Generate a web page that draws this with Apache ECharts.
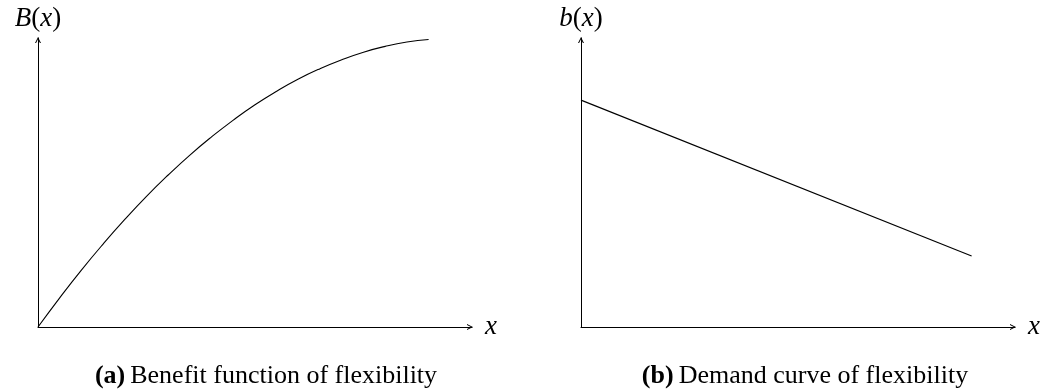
<!DOCTYPE html>
<html>
<head>
<meta charset="utf-8">
<script src="https://cdn.jsdelivr.net/npm/echarts@6/dist/echarts.min.js"></script>
<style>
  html, body { margin: 0; padding: 0; background: #fff; }
  #chart { width: 1047px; height: 392px; }
</style>
</head>
<body>
<div id="chart"></div>
<script>
// Benefit function B(x): concave, read every half step from x = 0 to 9
const benefitX = [0, 0.5, 1, 1.5, 2, 2.5, 3, 3.5, 4, 4.5, 5, 5.5, 6, 6.5, 7, 7.5, 8, 8.5, 9];
const benefitY = [0, 1.01, 1.97, 2.87, 3.72, 4.52, 5.26, 5.95, 6.58, 7.16, 7.69, 8.16, 8.58, 8.94, 9.25, 9.51, 9.71, 9.86, 9.95];

// Demand curve b(x): straight line, endpoints
const demandX = [0, 9];
const demandY = [7.85, 2.46];

// Panel texts
const captions = ['Benefit function of flexibility', 'Demand curve of flexibility'];
const captionTags = ['(a)', '(b)'];
const yNames = ['B', 'b'];

const serif = '"Liberation Serif", "DejaVu Serif", serif';
// Open chevron arrow head, pointing up before ECharts rotates it onto the axis
const chevron = 'path://M0,10 L5,0 L10,10 L8.2,10 L5,3.6 L1.8,10 Z';

function pairs(xs, ys) { return xs.map((x, i) => [x, ys[i]]); }

function axisLine() {
  return {
    show: true,
    onZero: false,
    symbol: ['none', chevron],
    symbolSize: [9, 6],
    symbolOffset: [0, -2],
    lineStyle: { color: '#000', width: 1 }
  };
}

const grids = [
  { left: 38, top: 38, width: 434, height: 289 },
  { left: 581, top: 38, width: 434, height: 289 }
];

const xAxes = grids.map((g, i) => ({
  type: 'value', gridIndex: i, min: 0, max: 10,
  axisLine: axisLine(), axisTick: { show: false }, axisLabel: { show: false },
  splitLine: { show: false },
  name: 'x', nameLocation: 'end', nameGap: 13,
  nameTextStyle: { fontFamily: serif, fontStyle: 'italic', fontSize: 27, color: '#000', verticalAlign: 'middle', padding: [0, 0, 6, 0] }
}));

const yAxes = grids.map((g, i) => ({
  type: 'value', gridIndex: i, min: 0, max: 10,
  axisLine: axisLine(), axisTick: { show: false }, axisLabel: { show: false },
  splitLine: { show: false },
  name: '{i|' + yNames[i] + '}{u|(}{i|x}{u|)}',
  nameLocation: 'end', nameGap: 6,
  nameTextStyle: {
    align: 'center', verticalAlign: 'bottom',
    rich: {
      i: { fontFamily: serif, fontStyle: 'italic', fontSize: 27, color: '#000' },
      u: { fontFamily: serif, fontSize: 27, color: '#000' }
    }
  }
}));

const lineStyle = { color: '#000', width: 1.1 };

const option = {
  animation: false,
  backgroundColor: '#fff',
  grid: grids,
  xAxis: xAxes,
  yAxis: yAxes,
  title: captions.map((c, i) => ({
    text: '{b|' + captionTags[i] + '} {n|' + c + '}',
    left: i === 0 ? 261 : 800,
    top: 358,
    textAlign: 'center',
    textStyle: {
      fontWeight: 'normal',
      rich: {
        b: { fontFamily: serif, fontWeight: 'bold', fontSize: 26, color: '#000' },
        n: { fontFamily: serif, fontWeight: 'normal', fontSize: 26, color: '#000' }
      }
    }
  })),
  series: [
    {
      type: 'line', xAxisIndex: 0, yAxisIndex: 0,
      data: pairs(benefitX, benefitY),
      smooth: true, showSymbol: false, lineStyle: lineStyle
    },
    {
      type: 'line', xAxisIndex: 1, yAxisIndex: 1,
      data: pairs(demandX, demandY),
      showSymbol: false, lineStyle: lineStyle
    }
  ]
};

const chart = echarts.init(document.getElementById('chart'), null, { renderer: 'canvas' });
chart.setOption(option);
</script>
</body>
</html>
